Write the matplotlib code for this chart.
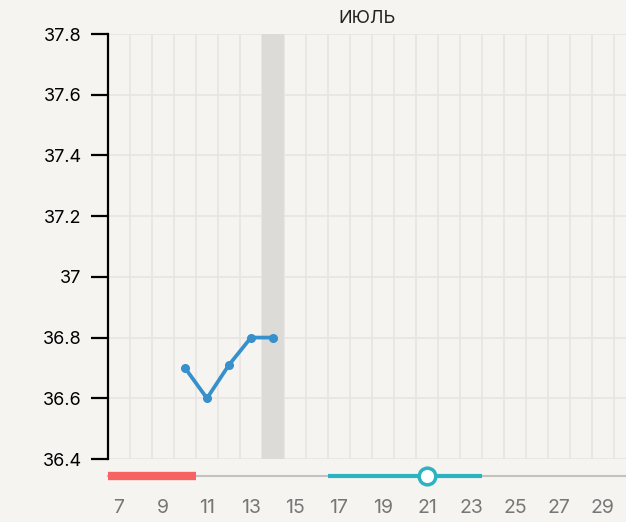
import matplotlib.pyplot as plt
from matplotlib.ticker import FuncFormatter

# --- Data ---
days = [10, 11, 12, 13, 14]
temps = [36.7, 36.6, 36.71, 36.8, 36.8]
today = 14
period_days = (6.5, 10.5)
fertile_days = (16.5, 23.5)
ovulation_day = 21
month_title = 'ИЮЛЬ'
x_ticks = list(range(7, 30, 2))
y_ticks = [36.4, 36.6, 36.8, 37.0, 37.2, 37.4, 37.6, 37.8]

plt.rcParams['font.family'] = ['Inter', 'DejaVu Sans']

bg = '#f6f4f1'
fig = plt.figure(figsize=(6.26, 5.22), dpi=100, facecolor=bg)
ax = fig.add_axes([108 / 626, 1 - 459 / 522, 1 - 108 / 626, 425 / 522])
ax.set_facecolor(bg)

ax.set_xlim(6.5, 30.05)
ax.set_ylim(36.4, 37.8)

# --- Grid ---
for x in range(7, 31):
    ax.axvline(x + 0.5, color='#e7e4e1', lw=1.2, zorder=0)
for y in y_ticks:
    ax.axhline(y, color='#e7e4e1', lw=1.2, zorder=0)

# --- Today band ---
ax.axvspan(today - 0.5, today + 0.5, color='#dddbd8', zorder=1, lw=0)

# --- Temperature line ---
ax.plot(days, temps, color='#3590cc', lw=2.7, marker='o', ms=5.5, zorder=3)

# --- Spines / ticks ---
for s in ['top', 'right', 'bottom']:
    ax.spines[s].set_visible(False)
ax.spines['left'].set_linewidth(1.6)
ax.spines['left'].set_color('black')

ax.set_yticks(y_ticks)
ax.yaxis.set_major_formatter(FuncFormatter(lambda v, p: f'{v:g}'))
ax.tick_params(axis='y', length=12, width=1.6, pad=7, labelsize=13, colors='black')

ax.set_xticks(x_ticks)
ax.tick_params(axis='x', length=0, pad=29, labelsize=14, labelcolor='#777777')

# --- Cycle strip below the plot ---
trans = ax.get_xaxis_transform()
strip_y = -0.04
ax.plot([6.5, 30.05], [strip_y, strip_y], color='#c4c1be', lw=1.5,
        transform=trans, clip_on=False, zorder=2)
ax.plot(period_days, [strip_y, strip_y], color='#f76262', lw=6,
        transform=trans, clip_on=False, solid_capstyle='butt', zorder=3)
ax.plot(fertile_days, [strip_y, strip_y], color='#2ab3c0', lw=3,
        transform=trans, clip_on=False, solid_capstyle='butt', zorder=3)
ax.plot([ovulation_day], [strip_y], marker='o', ms=12, mfc='white',
        mec='#2ab3c0', mew=2.5, transform=trans, clip_on=False, zorder=4)

ax.set_title(month_title, fontsize=13, color='#222222', pad=8)

fig.savefig('out.png', dpi=100, facecolor=bg)
